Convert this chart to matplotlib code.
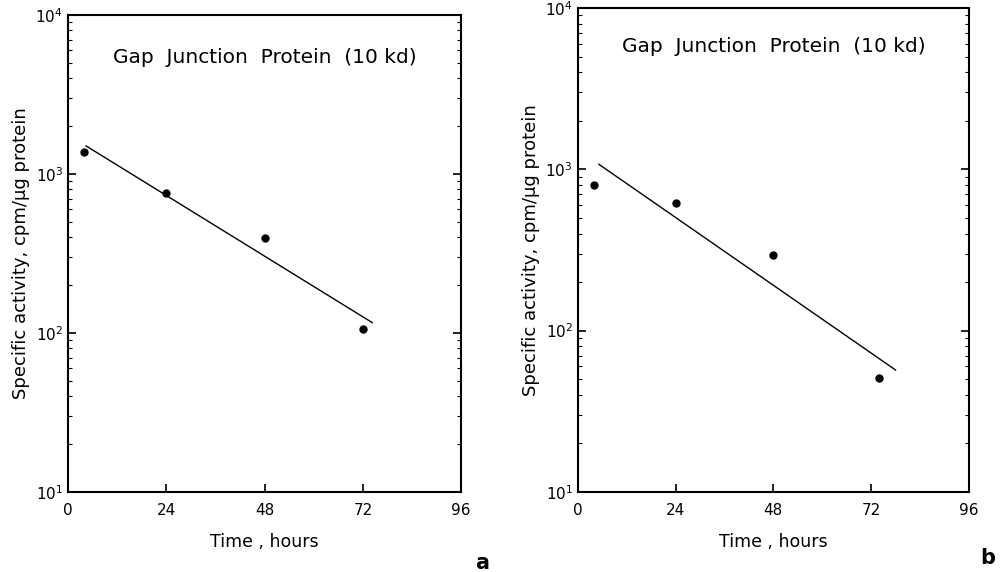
import matplotlib
matplotlib.use("Agg")
import matplotlib.pyplot as plt
from matplotlib.ticker import LogLocator, NullFormatter, FixedLocator

plt.rcParams['font.family'] = ['DejaVu Sans']
plt.rcParams['mathtext.fontset'] = 'dejavusans'

# Data (hours, cpm/ug protein)
time_a = [4, 24, 48, 72]
activity_a = [1375, 760, 396, 106]
fit_time_a = [4.4, 74.3]
fit_activity_a = [1500, 116]

time_b = [4, 24, 48, 74]
activity_b = [796, 617, 295, 51]
fit_time_b = [5.2, 78]
fit_activity_b = [1074, 57]

xticks = [0, 24, 48, 72, 96]
title = "Gap  Junction  Protein  (10 kd)"
ylabel = "Specific activity, cpm/µg protein"
xlabel = "Time , hours"

fig = plt.figure(figsize=(10.03, 5.72), dpi=100)

def make(ax, t, a, ft, fa, title_y, label, lx, ly):
    ax.plot(ft, fa, color='black', lw=1.0)
    ax.plot(t, a, 'o', color='black', ms=5)
    ax.set_yscale('log')
    ax.set_ylim(10, 1e4)
    ax.set_xlim(0, 96)
    ax.xaxis.set_major_locator(FixedLocator(xticks))
    ax.yaxis.set_major_locator(LogLocator(base=10, numticks=10))
    ax.yaxis.set_minor_locator(LogLocator(base=10, subs=range(2, 10), numticks=10))
    ax.yaxis.set_minor_formatter(NullFormatter())
    ax.tick_params(axis='both', which='major', direction='in', length=6, width=1.2,
                   labelsize=11, colors='black')
    ax.tick_params(axis='y', which='minor', direction='in', length=3, width=0.8)
    ax.tick_params(axis='y', which='both', right=True)
    ax.tick_params(axis='x', pad=8)
    for s in ax.spines.values():
        s.set_linewidth(1.5)
    ax.text(0.5, title_y, title, transform=ax.transAxes, ha='center', va='center',
            fontsize=14.5)
    ax.set_xlabel(xlabel, fontsize=12.5, labelpad=11)
    ax.set_ylabel(ylabel, fontsize=13, labelpad=4)
    fig.text(lx, ly, label, fontsize=15, fontweight='bold', ha='center', va='center')

ax1 = fig.add_axes([0.0678, 0.140, 0.392, 0.834])
make(ax1, time_a, activity_a, fit_time_a, fit_activity_a, 0.91, 'a', 0.481, 0.016)

ax2 = fig.add_axes([0.576, 0.140, 0.390, 0.846])
make(ax2, time_b, activity_b, fit_time_b, fit_activity_b, 0.92, 'b', 0.985, 0.025)

fig.savefig("out.png", dpi=100, facecolor='white')
